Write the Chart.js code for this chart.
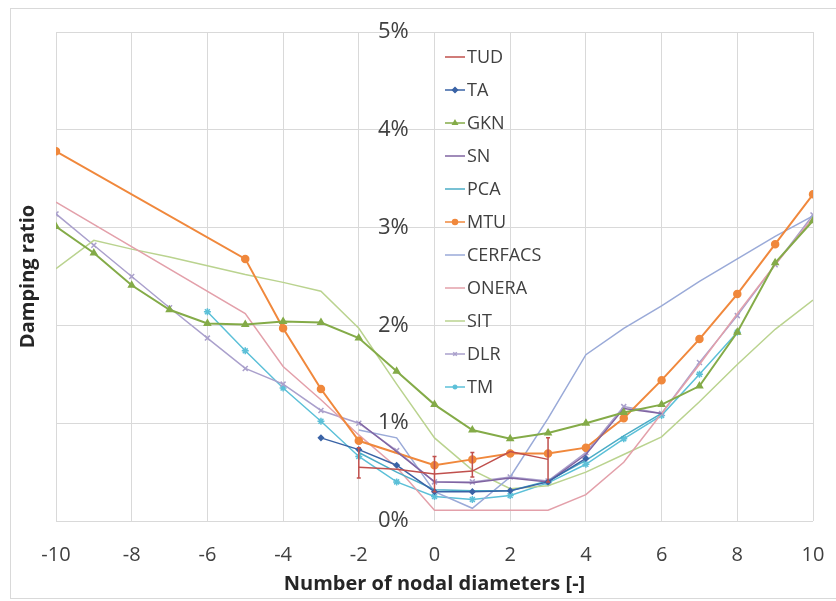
<!DOCTYPE html>
<html>
<head>
<meta charset="utf-8">
<script src="https://cdn.jsdelivr.net/npm/chart.js@4.4.1/dist/chart.umd.min.js"></script>
<style>
  body { margin: 0; background: #fff; }
  #wrap { position: relative; width: 836px; height: 601px; }
  #frame { position: absolute; left: 10px; top: 8px; width: 830px; height: 589px; border: 1px solid #d9d9d9; pointer-events: none; }
</style>
</head>
<body>
<div id="wrap">
  <canvas id="dampChart" width="836" height="601"></canvas>
  <div id="frame"></div>
</div>
<script>
const N = null;
// nodal diameters -10 .. 10
const nodal = [-10, -9, -8, -7, -6, -5, -4, -3, -2, -1, 0, 1, 2, 3, 4, 5, 6, 7, 8, 9, 10];

// damping ratio in %, one value per nodal diameter (null = no point)
const tud     = [N, N, N, N, N, N, N, N, 0.55, 0.53, 0.48, 0.51, 0.71, 0.63, N, N, N, N, N, N, N];
const tudLow  = [N, N, N, N, N, N, N, N, 0.44, N, 0.30, 0.45, N, 0.40, N, N, N, N, N, N, N];
const tudHigh = [N, N, N, N, N, N, N, N, 0.75, N, 0.66, 0.70, N, 0.85, N, N, N, N, N, N, N];
const ta      = [N, N, N, N, N, N, N, 0.85, 0.73, 0.57, 0.30, 0.30, 0.31, 0.40, 0.64, N, N, N, N, N, N];
const gkn     = [3.01, 2.74, 2.41, 2.16, 2.02, 2.01, 2.04, 2.03, 1.87, 1.53, 1.19, 0.93, 0.84, 0.90, 1.00, 1.11, 1.19, 1.38, 1.93, 2.64, 3.07];
const sn      = [N, N, N, N, N, N, N, N, 1.01, 0.71, 0.40, 0.39, 0.44, 0.40, 0.68, 1.15, 1.10, N, N, N, N];
const pca     = [N, N, N, N, N, N, N, N, 0.70, 0.50, 0.32, 0.31, 0.31, 0.41, 0.62, 0.87, 1.10, N, N, N, N];
const mtu     = [3.78, N, N, N, N, 2.68, 1.97, 1.35, 0.82, N, 0.57, 0.63, 0.69, 0.69, 0.75, 1.05, 1.44, 1.86, 2.32, 2.83, 3.34];
const cerfacs = [N, N, N, N, N, N, N, N, 0.93, 0.85, 0.30, 0.13, 0.45, 1.05, 1.70, 1.97, 2.20, 2.45, 2.68, 2.91, 3.12];
const onera   = [3.26, N, N, N, N, 2.12, 1.58, 1.24, 0.88, 0.55, 0.11, 0.11, 0.11, 0.11, 0.27, 0.60, 1.10, 1.60, 2.12, 2.62, 3.10];
const sit     = [2.58, 2.87, 2.78, 2.70, 2.61, 2.52, 2.44, 2.35, 1.97, 1.40, 0.85, 0.52, 0.33, 0.36, 0.50, 0.68, 0.86, 1.22, 1.60, 1.96, 2.26];
const dlr     = [3.14, 2.82, 2.50, 2.18, 1.87, 1.56, 1.40, 1.13, 1.00, 0.72, 0.40, 0.40, 0.45, 0.41, 0.70, 1.17, 1.10, 1.62, 2.10, 2.62, 3.13];
const tm      = [N, N, N, N, 2.14, 1.74, 1.36, 1.02, 0.66, 0.40, 0.25, 0.22, 0.26, 0.39, 0.58, 0.84, 1.08, 1.50, 1.93, N, N];

const yTicks = [0, 1, 2, 3, 4, 5];
const xTicks = [-10, -8, -6, -4, -2, 0, 2, 4, 6, 8, 10];

function pts(arr) {
    return nodal.map((n, i) => ({ x: n, y: arr[i] }));
}

function series(label, arr, color, style, radius, width) {
    return {
        label: label,
        data: pts(arr),
        borderColor: color,
        backgroundColor: color,
        borderWidth: width || 1.5,
        pointStyle: style || 'circle',
        pointRadius: radius || 0,
        pointBorderWidth: 1.5,
        spanGaps: true,
        tension: 0
    };
}

const datasets = [
    series('TUD', tud, '#c0504d'),
    series('TA', ta, '#3a63a6', 'rectRot', 2.5),
    series('GKN', gkn, '#84ab48', 'triangle', 3.5, 2),
    series('SN', sn, '#8064a2'),
    series('PCA', pca, '#4bacc6'),
    series('MTU', mtu, '#f0883c', 'circle', 3.5, 2),
    series('CERFACS', cerfacs, '#9aaad8'),
    series('ONERA', onera, '#e3a0aa'),
    series('SIT', sit, '#bad38f'),
    series('DLR', dlr, '#aaa0cc', 'crossRot', 3.5),
    series('TM', tm, '#5cc0d8', 'star', 3.5)
];

// error bars on TUD, drawn through the chart scales
const errorBars = {
    id: 'errorBars',
    afterDatasetsDraw(chart) {
        const ctx = chart.ctx;
        const xs = chart.scales.x, ys = chart.scales.y;
        ctx.save();
        ctx.strokeStyle = '#c0504d';
        ctx.lineWidth = 1.5;
        nodal.forEach((n, i) => {
            if (tudLow[i] == null) return;
            const px = xs.getPixelForValue(n);
            const y1 = ys.getPixelForValue(tudLow[i]);
            const y2 = ys.getPixelForValue(tudHigh[i]);
            ctx.beginPath();
            ctx.moveTo(px, y1); ctx.lineTo(px, y2);
            ctx.moveTo(px - 2, y1); ctx.lineTo(px + 2, y1);
            ctx.moveTo(px - 2, y2); ctx.lineTo(px + 2, y2);
            ctx.stroke();
        });
        ctx.restore();
    }
};

// legend inside the plot, right of the centre axis
const sideLegend = {
    id: 'sideLegend',
    afterDraw(chart) {
        const ctx = chart.ctx;
        ctx.save();
        ctx.font = '18px "Open Sans"';
        ctx.textBaseline = 'middle';
        chart.data.datasets.forEach((ds, i) => {
            const y = 57 + 33 * i;
            ctx.strokeStyle = ds.borderColor;
            ctx.lineWidth = 1.5;
            ctx.beginPath();
            ctx.moveTo(445, y); ctx.lineTo(465, y);
            ctx.stroke();
            if (ds.pointRadius > 0) {
                ctx.fillStyle = ds.borderColor;
                Chart.helpers.drawPoint(ctx, { pointStyle: ds.pointStyle, radius: 2.5, borderWidth: 1.2, rotation: 0 }, 455, y);
            }
            ctx.fillStyle = '#404040';
            ctx.fillText(ds.label, 467, y + 1);
        });
        ctx.restore();
    }
};

const ctx = document.getElementById('dampChart').getContext('2d');
new Chart(ctx, {
    type: 'line',
    data: { datasets: datasets },
    plugins: [errorBars, sideLegend],
    options: {
        responsive: false,
        animation: false,
        devicePixelRatio: 1,
        layout: { padding: { top: 32, right: 23, bottom: 0, left: 0 } },
        plugins: { legend: { display: false }, tooltip: { enabled: false } },
        scales: {
            x: {
                type: 'linear',
                min: -10, max: 10,
                afterBuildTicks: (s) => { s.ticks = xTicks.map(v => ({ value: v })); },
                afterFit: (s) => { s.height = 80; },
                ticks: { color: '#404040', font: { family: 'Open Sans', size: 20 }, padding: 0 },
                grid: { color: '#d9d9d9', drawTicks: true, tickLength: 22, tickColor: 'rgba(0,0,0,0)' },
                border: { display: false },
                title: {
                    display: true, text: 'Number of nodal diameters [-]', color: '#262626',
                    font: { family: 'Open Sans', size: 20, weight: 'bold' }, padding: { top: 0, bottom: 5 }
                }
            },
            y: {
                // labels sit left of the centre line, the line itself is the x grid at 0
                position: { x: -0.68 },
                min: 0, max: 5,
                afterBuildTicks: (s) => { s.ticks = yTicks.map(v => ({ value: v })); },
                ticks: { color: '#404040', font: { family: 'Open Sans', size: 22 }, padding: 0, callback: (v) => v + '%' },
                grid: { color: '#d9d9d9', drawTicks: false },
                border: { display: false }
            },
            yTitle: {
                position: 'left',
                min: 0, max: 1,
                afterFit: (s) => { s.width = 56; },
                ticks: { display: false },
                grid: { display: false },
                border: { display: false },
                title: {
                    display: true, text: 'Damping ratio', color: '#262626',
                    font: { family: 'Open Sans', size: 20, weight: 'bold' }, padding: { top: 16, bottom: 0 }
                }
            }
        }
    }
});
</script>
</body>
</html>
